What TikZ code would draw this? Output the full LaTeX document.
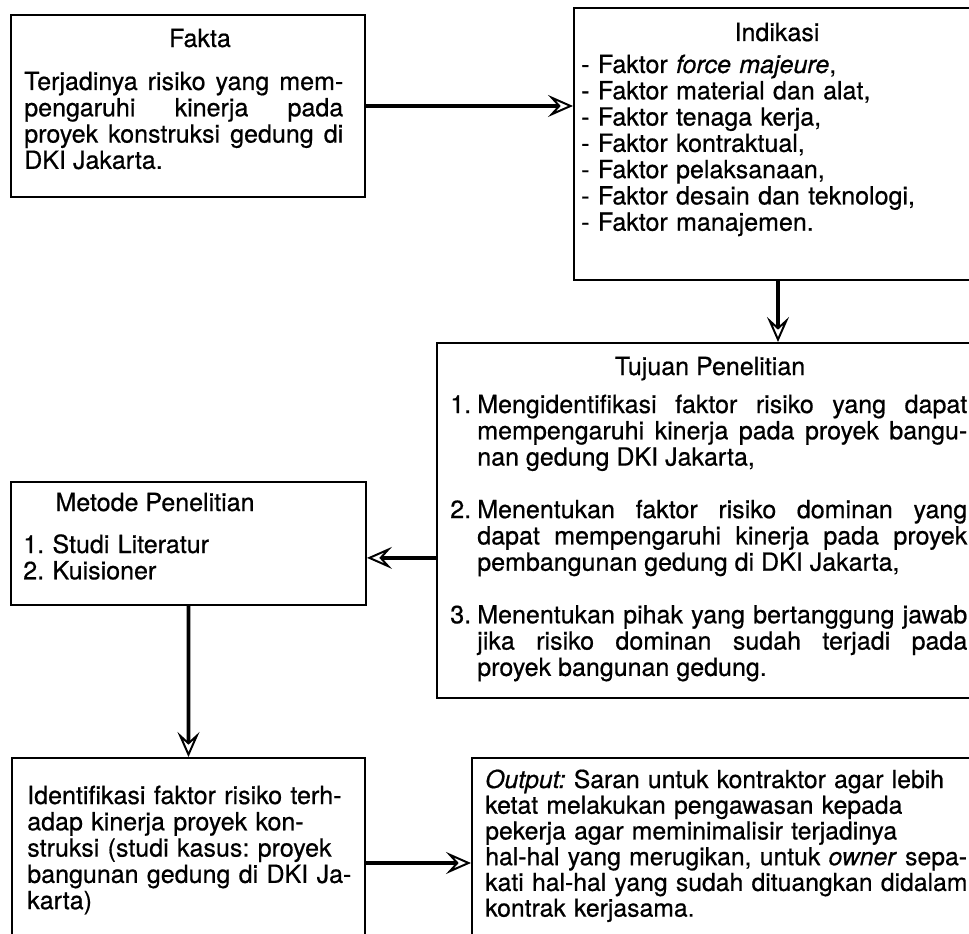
\documentclass[tikz,border=0pt]{standalone}
\usepackage{fontspec}
\setmainfont{TeX Gyre Heros}[FakeBold=0.6]
\usetikzlibrary{arrows.meta}
\tolerance=10000
\hbadness=10000
\frenchspacing
\newcommand{\boxfont}{\fontsize{17.8pt}{18.7pt}\selectfont}
\newcommand{\tujuanitem}[2]{\hangindent=0.675cm\hangafter=1\noindent\makebox[0.675cm][l]{#1}#2\par}
\tikzstyle{box}=[draw, line width=1.4pt, anchor=north west, inner sep=0pt]
\tikzstyle{heading}=[anchor=base, inner sep=0pt, font=\boxfont]
\tikzstyle{body}=[anchor=base west, inner sep=0pt, font=\boxfont, align=left]
\tikzstyle{flow}=[line width=2.8pt, -{Stealth[open, length=0.625cm, width=0.55cm, inset=0.25cm, line width=1.4pt]}]

\begin{document}
\begin{tikzpicture}
      \useasboundingbox (0,0) rectangle (24.225,-23.325);
      \clip (0,0) rectangle (24.225,-23.325);

      % boxes
      \node[box, minimum width=8.85cm, minimum height=4.55cm] (fakta) at (0.25,-0.35) {};
      \node[box, minimum width=10.2cm, minimum height=6.8cm] (indikasi) at (14.325,-0.175) {};
      \node[box, minimum width=13.85cm, minimum height=8.875cm] (tujuan) at (10.9,-8.55) {};
      \node[box, minimum width=8.875cm, minimum height=3.075cm] (metode) at (0.25,-12.025) {};
      \node[box, minimum width=8.825cm, minimum height=5.25cm] (identifikasi) at (0.275,-18.925) {};
      \node[box, minimum width=13cm, minimum height=5.25cm] (output) at (11.775,-18.925) {};

      % texts
      \node[heading] (fakta title) at (5.0,-1.175) {Fakta};
      \node[body, text width=7.975cm, align=justify] (fakta text) at (0.6,-2.25)
        {Terjadinya risiko yang mem-\linebreak pengaruhi kinerja pada\linebreak
         proyek konstruksi gedung di\linebreak DKI Jakarta.};

      \node[heading] (indikasi title) at (19.425,-1.025) {Indikasi};
      \node[body, text width=9cm] (indikasi text) at (14.525,-1.825)
        {- Faktor \textit{force majeure},\\ - Faktor material dan alat,\\
         - Faktor tenaga kerja,\\ - Faktor kontraktual,\\ - Faktor pelaksanaan,\\
         - Faktor desain dan teknologi,\\ - Faktor manajemen.};

      \node[heading] (tujuan title) at (17.75,-9.375) {Tujuan Penelitian};
      \node[body, text width=12.925cm, align=justify] (tujuan text) at (11.25,-10.325)
        {\tujuanitem{1.}{Mengidentifikasi faktor risiko yang dapat\linebreak
           mempengaruhi kinerja pada proyek bangu-\linebreak nan gedung DKI Jakarta,}
         \vspace{\baselineskip}
         \tujuanitem{2.}{Menentukan faktor risiko dominan yang\linebreak
           dapat mempengaruhi kinerja pada proyek\linebreak pembangunan gedung di DKI Jakarta,}
         \vspace{\baselineskip}
         \tujuanitem{3.}{Menentukan pihak yang bertanggung jawab\linebreak
           jika risiko dominan sudah terjadi pada\linebreak proyek bangunan gedung.}};

      \node[heading] (metode title) at (3.875,-12.775) {Metode Penelitian};
      \node[body, text width=8cm] (metode text) at (0.575,-13.825)
        {1. Studi Literatur\\ 2. Kuisioner};

      \node[body, text width=8.3cm] (identifikasi text) at (0.675,-20.1)
        {Identifikasi faktor risiko terh-\\ adap kinerja proyek kon-\\
         struksi (studi kasus: proyek\\ bangunan gedung di DKI Ja-\\ karta)};

      \node[body, text width=12.1cm, font={\fontsize{17.6pt}{18.3pt}\selectfont}] (output text) at (12.125,-19.7)
        {\textit{Output:} Saran untuk kontraktor agar lebih\\
         ketat melakukan pengawasan kepada\\
         pekerja agar meminimalisir terjadinya\\
         hal-hal yang merugikan, untuk \textit{owner} sepa-\\
         kati hal-hal yang sudah dituangkan didalam\\
         kontrak kerjasama.};

      % arrows
      \coordinate (metode in) at ([yshift=-0.36cm]metode.east);
      \draw[flow] (fakta.east) -- (fakta.east -| indikasi.west);
      \draw[flow] (indikasi.south) -- (indikasi.south |- tujuan.north);
      \draw[flow] (metode in -| tujuan.west) -- (metode in);
      \draw[flow] (metode.south) -- (identifikasi.north);
      \draw[flow] (identifikasi.east) -- (identifikasi.east -| output.west);
    \end{tikzpicture}
\end{document}
